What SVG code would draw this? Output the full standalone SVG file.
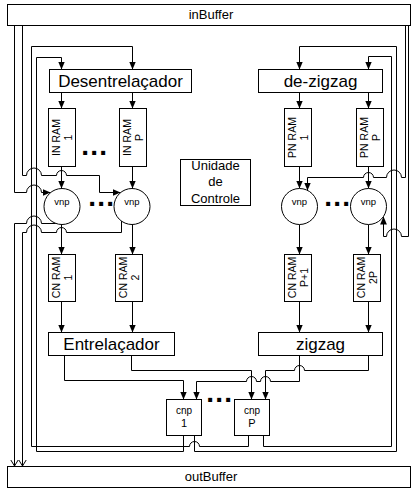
<svg xmlns="http://www.w3.org/2000/svg" width="412" height="489" viewBox="0 0 412 489">
<defs>
<marker id="a" markerWidth="8" markerHeight="8" refX="8" refY="4" orient="auto" markerUnits="userSpaceOnUse"><path d="M0,0.6 L8,4 L0,7.4 z" fill="#000"/></marker>
<marker id="o" markerWidth="8" markerHeight="10" refX="6.5" refY="4.5" orient="auto" markerUnits="userSpaceOnUse"><path d="M0,0.5 L6.5,4.5 L0,8.5" fill="none" stroke="#000" stroke-width="1"/></marker>
<style>
text{font-family:"Liberation Sans",Arial,Helvetica,sans-serif;fill:#000}
.b{fill:#fff;stroke:#000;stroke-width:1}
.w{fill:none;stroke:#000;stroke-width:1}
.f{marker-end:url(#a)}
.op{marker-end:url(#o)}
.big{font-size:17px;text-anchor:middle}
.buf{font-size:13px;text-anchor:middle}
.ram{font-size:10.5px;text-anchor:middle}
.vnp{font-size:9.5px;text-anchor:middle}
.cnp{font-size:10px;text-anchor:middle}
.num{font-size:11px;text-anchor:middle}
.dots{font-size:28px;font-weight:bold;letter-spacing:1.2px}
</style>
</defs>
<rect width="412" height="489" fill="#fff"/>
<g id="connectors" class="w">
<path d="M14.5 25.5 V192.5 H26.5 A7.5 7.5 0 0 1 41.5 192.5 H50.5" class="f"/>
<path d="M22.5 25.5 V175.5 H26.5 A7.5 7.5 0 0 1 41.5 175.5 H56.5 A5 5 0 0 1 66.5 175.5 H99.5 V192.5 H120.5" class="f"/>
<path d="M56 223.5 H41.5 A7.5 7.5 0 0 0 26.5 223.5 H14.5 V466" class="op"/>
<path d="M121.5 221 V232.5 H66.5 A5 5 0 0 0 56.5 232.5 H41.5 A7.5 7.5 0 0 0 26.5 232.5 H22.5 V466" class="op"/>
<path d="M61.5 92.5 V108.5" class="f"/>
<path d="M132.5 92.5 V108.5" class="f"/>
<path d="M61.5 166.5 V188.5" class="f"/>
<path d="M132.5 166.5 V188.5" class="f"/>
<path d="M61.5 224.5 V254.5" class="f"/>
<path d="M132.5 224.5 V254.5" class="f"/>
<path d="M61.5 301.5 V332.5" class="f"/>
<path d="M132.5 301.5 V332.5" class="f"/>
<path d="M64.5 355.5 V380.5 H183.5 V399.5" class="f"/>
<path d="M131.5 355.5 V370.5 H251.5 V399.5" class="f"/>
<path d="M299.5 92.5 V108.5" class="f"/>
<path d="M368.5 92.5 V108.5" class="f"/>
<path d="M299.5 166.5 V188.5" class="f"/>
<path d="M368.5 166.5 V188.5" class="f"/>
<path d="M299.5 224.5 V254.5" class="f"/>
<path d="M368.5 224.5 V254.5" class="f"/>
<path d="M299.5 301.5 V332.5" class="f"/>
<path d="M368.5 301.5 V332.5" class="f"/>
<path d="M299.5 355.5 V381.5 H270.5 A5 5 0 0 0 260.5 381.5 H256.5 A5 5 0 0 0 246.5 381.5 H196.5 V399.5" class="f"/>
<path d="M368.5 355.5 V370.5 H304.5 A5 5 0 0 0 294.5 370.5 H265.5 V399.5" class="f"/>
<path d="M405.5 25.5 V177.5 H401.5 A7.5 7.5 0 0 0 386.5 177.5 H373.5 A5 5 0 0 0 363.5 177.5 H307.5 V190.5" class="f"/>
<path d="M408.5 25.5 V236.5 H401.5 A7.5 7.5 0 0 0 386.5 236.5 H383.5 V216.5" class="f"/>
<path d="M183.5 435.5 V451.5 H36.5 V57.5 H61.5 V69.5" class="f"/>
<path d="M248.5 435.5 V446.5 H199.5 A5 5 0 0 0 189.5 446.5 H31.5 V46.5 H132.5 V69.5" class="f"/>
<path d="M194.5 435.5 V451.5 H396.5 V46.5 H299.5 V69.5" class="f"/>
<path d="M263.5 435.5 V446.5 H391.5 V56.5 H368.5 V69.5" class="f"/>
</g>
<g id="inBuffer"><rect class="b" x="7.5" y="4.5" width="403" height="21"/><text class="buf" x="211" y="19">inBuffer</text></g>
<g id="outBuffer"><rect class="b" x="7.5" y="466.5" width="403" height="21"/><text class="buf" x="211" y="481">outBuffer</text></g>
<g id="desentrelacador"><rect class="b" x="49.5" y="69.5" width="142" height="23"/><text class="big" x="120.5" y="87">Desentrelaçador</text></g>
<g id="dezigzag"><rect class="b" x="258.5" y="69.5" width="124" height="23"/><text class="big" x="320.5" y="87">de-zigzag</text></g>
<g id="inram1"><rect class="b" x="48.5" y="108.5" width="27" height="58"/><text class="ram" transform="translate(62,137.5) rotate(-90)"><tspan x="0" y="-2">IN RAM</tspan><tspan x="0" y="9.5">1</tspan></text></g>
<g id="inramP"><rect class="b" x="119.5" y="108.5" width="27" height="58"/><text class="ram" transform="translate(133,137.5) rotate(-90)"><tspan x="0" y="-2">IN RAM</tspan><tspan x="0" y="9.5">P</tspan></text></g>
<g id="pnram1"><rect class="b" x="284.5" y="108.5" width="27" height="58"/><text class="ram" transform="translate(298,137.5) rotate(-90)"><tspan x="0" y="-2">PN RAM</tspan><tspan x="0" y="9.5">1</tspan></text></g>
<g id="pnramP"><rect class="b" x="356.5" y="108.5" width="27" height="58"/><text class="ram" transform="translate(370,137.5) rotate(-90)"><tspan x="0" y="-2">PN RAM</tspan><tspan x="0" y="9.5">P</tspan></text></g>
<g id="controle"><rect class="b" x="180.5" y="159.5" width="70" height="46"/><text class="buf" x="215.5" y="170">Unidade</text><text class="buf" x="215.5" y="186">de</text><text class="buf" x="215.5" y="202.5">Controle</text></g>
<g id="vnp1"><circle class="b" cx="62" cy="206.5" r="18"/><text class="vnp" x="62" y="205">vnp</text></g>
<g id="vnpP"><circle class="b" cx="132" cy="206.5" r="18"/><text class="vnp" x="132" y="205">vnp</text></g>
<g id="vnpP1"><circle class="b" cx="299.5" cy="206.5" r="18"/><text class="vnp" x="299.5" y="205">vnp</text></g>
<g id="vnp2P"><circle class="b" cx="368.5" cy="206.5" r="18"/><text class="vnp" x="368.5" y="205">vnp</text></g>
<g id="cnram1"><rect class="b" x="48.5" y="254.5" width="27" height="47"/><text class="ram" transform="translate(62,277.5) rotate(-90)"><tspan x="0" y="-2">CN RAM</tspan><tspan x="0" y="9.5">1</tspan></text></g>
<g id="cnram2"><rect class="b" x="115.5" y="254.5" width="27" height="47"/><text class="ram" transform="translate(129,277.5) rotate(-90)"><tspan x="0" y="-2">CN RAM</tspan><tspan x="0" y="9.5">2</tspan></text></g>
<g id="cnramP1"><rect class="b" x="284.5" y="254.5" width="27" height="47"/><text class="ram" transform="translate(298,277.5) rotate(-90)"><tspan x="0" y="-2">CN RAM</tspan><tspan x="0" y="9.5">P+1</tspan></text></g>
<g id="cnram2P"><rect class="b" x="353.5" y="254.5" width="27" height="47"/><text class="ram" transform="translate(367,277.5) rotate(-90)"><tspan x="0" y="-2">CN RAM</tspan><tspan x="0" y="9.5">2P</tspan></text></g>
<g id="entrelacador"><rect class="b" x="48.5" y="332.5" width="126" height="23"/><text class="big" x="111.5" y="349.5">Entrelaçador</text></g>
<g id="zigzag"><rect class="b" x="258.5" y="332.5" width="124" height="23"/><text class="big" x="320.5" y="349.5">zigzag</text></g>
<g id="cnp1"><rect class="b" x="166.5" y="399.5" width="35" height="36"/><text class="cnp" x="184" y="414">cnp</text><text class="num" x="184" y="427">1</text></g>
<g id="cnpP"><rect class="b" x="234.5" y="399.5" width="35" height="36"/><text class="cnp" x="252" y="414">cnp</text><text class="num" x="252" y="427">P</text></g>
<g id="dots">
<text class="dots" x="81.2" y="154.5">...</text>
<text class="dots" x="88.2" y="205.5">...</text>
<text class="dots" x="324.2" y="205.5">...</text>
<text class="dots" x="206.2" y="401.5">...</text>
</g>
</svg>
